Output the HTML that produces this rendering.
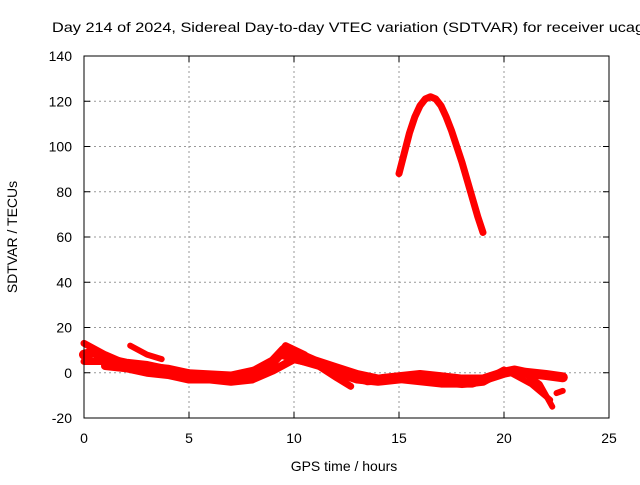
<!DOCTYPE html>
<html><head><meta charset="utf-8"><style>
body{margin:0;background:#fff;width:640px;height:480px;overflow:hidden}
svg{font-family:"Liberation Sans",sans-serif}
</style></head><body>
<svg id="c" width="640" height="480">
<text x="52" y="32" font-size="14" textLength="592" lengthAdjust="spacingAndGlyphs">Day 214 of 2024, Sidereal Day-to-day VTEC variation (SDTVAR) for receiver ucag</text>
<g id="grid"></g>
<g id="series"></g>
<rect x="84" y="56" width="525" height="362" fill="none" stroke="#000" stroke-width="1"/>
<g id="ticks"></g>
<text x="344" y="471" font-size="14" text-anchor="middle">GPS time / hours</text>
<text transform="translate(17,237) rotate(-90)" font-size="14" text-anchor="middle">SDTVAR / TECUs</text>
</svg>
<script>
const xTicks=[0,5,10,15,20,25];
const yTicks=[-20,0,20,40,60,80,100,120,140];
const mainT=[0,0.5,1,2,3,4,5,6,7,8,9,9.5,10,11,12,13,14,15,16,17,18,19,20,20.5,21,22,22.8];
const mainV=[8,9,6,4,3,1,-1,-2,-2,0,5,10,9,5,2,-1,-3,-2,-1,-2,-3,-3,0,1,0,-1,-2];
const lowT=[0,1,2,4,6,8,9,9.6,10.5,11,12,12.7];
const lowV=[13,8,4,2,-2,-1,4,12,8,4,-2,-6];
const midT=[0,1,3,5,7,8.5,9.3,10,11.5,13.5,15,17,18.5,19.5];
const midV=[5,5,2,0,-1,2,8,6,2,-4,-3,-5,-5,-2];
const band2T=[1,2,3,4,5,6,7,8,9,10,11,12,13,14,15,16,17,18,19,20];
const band2V=[3,2,0,-1,-3,-3,-4,-3,1,6,4,0,-3,-4,-3,-1,-4,-5,-4,1];
const shortT=[2.2,3,3.7];
const shortV=[12,8,6];
const tailAT=[20.3,21.3,22.2];
const tailAV=[0,-5,-12];
const tailBT=[20.8,21.7,22.3];
const tailBV=[1,-5,-15];
const tailCT=[22.5,22.8];
const tailCV=[-9,-8];
const bigT=[15,15.25,15.5,15.75,16,16.25,16.5,16.75,17,17.25,17.5,17.75,18,18.25,18.5,18.75,19];
const bigV=[88,97,106,113,118,121,122,121,118,113,107,100,93,85,77,69,62];
const X=t=>84+21*t, Y=v=>418-(v+20)*2.2625;
const ns="http://www.w3.org/2000/svg";
const mk=(tag,p,parent)=>{const e=document.createElementNS(ns,tag);for(const k in p)e.setAttribute(k,p[k]);document.getElementById(parent).appendChild(e);return e;};
xTicks.forEach(t=>{
 if(t>0&&t<25){const g=mk('line',{x1:X(t),x2:X(t),y1:56,y2:418,stroke:'#999','stroke-dasharray':'2,3'},'grid');
 
 }
 const l=mk('text',{x:X(t),y:443,'font-size':14,'text-anchor':'middle'},'ticks');l.textContent=t;
 
 
 mk('line',{x1:X(t),x2:X(t),y1:418,y2:412,stroke:'#000'},'ticks');mk('line',{x1:X(t),x2:X(t),y1:56,y2:62,stroke:'#000'},'ticks');
});
yTicks.forEach(v=>{
 if(v>-20&&v<140){const g=mk('line',{x1:84,x2:609,y1:Y(v),y2:Y(v),stroke:'#999','stroke-dasharray':'2,3'},'grid');
 
 }
 const l=mk('text',{x:72,y:Y(v)+5,'font-size':14,'text-anchor':'end'},'ticks');l.textContent=v;
 
 
 mk('line',{x1:84,x2:90,y1:Y(v),y2:Y(v),stroke:'#000'},'ticks');mk('line',{x1:609,x2:603,y1:Y(v),y2:Y(v),stroke:'#000'},'ticks');
});
[[mainT,mainV,10],[band2T,band2V,8],[lowT,lowV,7],[midT,midV,7],[shortT,shortV,6],[tailAT,tailAV,6],[tailBT,tailBV,6],[tailCT,tailCV,6],[bigT,bigV,7]].forEach(([ts,vs,w])=>{
 const p=mk('polyline',{points:ts.map((t,i)=>X(t)+','+Y(vs[i])).join(' '),fill:'none',stroke:'#f00','stroke-width':w,'stroke-linejoin':'round','stroke-linecap':'round'},'series');
 
 
});
</script>
</body></html>
